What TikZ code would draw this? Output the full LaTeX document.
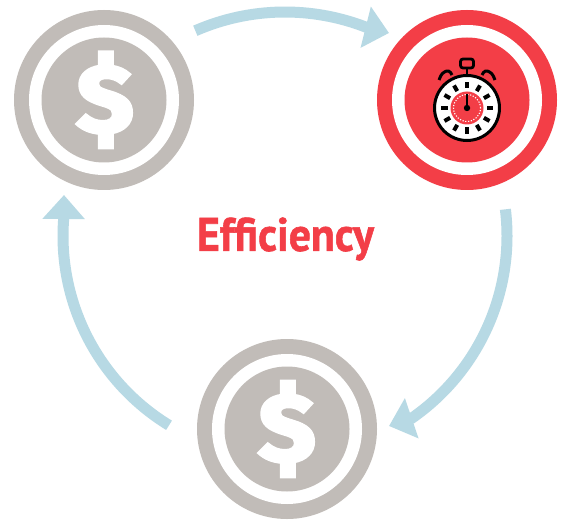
\documentclass[tikz,border=0pt]{standalone}
\usepackage{fontspec}
\setmainfont{Open Sans}
\newfontfamily\efont[FakeBold=1.2]{PT Sans Bold}
\newfontfamily\dfont[FakeBold=4]{Fira Sans Bold}
\usetikzlibrary{arrows.meta,calc}
\definecolor{coin}{HTML}{C1BCB8}
\definecolor{alert}{HTML}{F33E47}
\definecolor{flowc}{HTML}{B7D9E4}
\tikzset{
 x=1pt,y=1pt,
 disc/.style={circle,inner sep=0pt,outer sep=0pt,minimum size=#1},
 flow/.style={draw=flowc,fill=none,line width=11pt,-{Triangle[length=24pt,width=41pt,color=flowc]}},
 dollar/.style={text=white,font=\dfont\fontsize{96}{96}\selectfont,inner sep=0pt,xscale=1.08},
 ink/.style={draw=black,line width=3pt,line cap=round},
}
\begin{document}
\begin{tikzpicture}
\useasboundingbox (0,0) rectangle (561,520);
\fill[white] (0,0) rectangle (561,520);
\coordinate (hub) at (285,284);
% coins
\node[disc=180pt,fill=coin] (c1) at (104,420) {};
\node[disc=150pt,fill=white] (c1w) at (c1) {};
\node[disc=125pt,fill=coin] (c1i) at (c1) {};
\node[dollar] (d1) at (105,420) {\$};
\node[disc=180pt,fill=coin] (c3) at (287,91) {};
\node[disc=150pt,fill=white] (c3w) at (c3) {};
\node[disc=125pt,fill=coin] (c3i) at (c3) {};
\node[dollar] (d3) at (287,91) {\$};
\node[disc=180pt,fill=alert] (c2) at (467,420) {};
\node[disc=150pt,fill=white] (c2w) at (c2) {};
\node[disc=125pt,fill=alert] (c2i) at (c2) {};
% stopwatch
\coordinate (w) at (467,412);
\fill[white] (w) circle (32);
\fill[alert] (w) circle (16.5);
\draw[ink] (w) circle (32.5);
\draw[white,line width=1.1pt,dash pattern=on 1.2pt off 1.6pt] (w) circle (13.5);
\foreach \a in {0,30,...,330}{
  \fill[black,rotate around={\a:(w)}] ($(w)+(-2,19.5)$) rectangle ($(w)+(2,26)$);
}
\draw[black,line width=1.6pt] (w) -- ++(0,14);
\fill[black] (w) circle (3.2);
\draw[black,line width=2.8pt,rounded corners=2.5pt] (460.5,452) rectangle (473.5,461);
\draw[black,line width=2.4pt] (467,452) -- (467,443);
\draw[ink,line cap=butt,rounded corners=3pt] (439,440) -- (442,447) -- (449,450) -- (452,445);
\draw[ink,line cap=butt,rounded corners=3pt] (495,440) -- (492,447) -- (485,450) -- (482,445);
% label
\node[inner sep=0pt,text=alert,font=\efont\fontsize{47}{47}\selectfont,xscale=.93] (eff) at (285.5,281) {Efficiency};
% connectors
\coordinate (s1) at ($(hub)+(113.6:224)$);
\coordinate (t1) at (389,487);
\coordinate (s2) at ($(hub)+(6.9:222)$);
\coordinate (t2) at (389,94);
\coordinate (s3) at ($(hub)+(238.5:222)$);
\coordinate (t3) at (64,325);
\draw[flow] (s1) arc[start angle=113.6,end angle=68.6,radius=224] -- (t1);
\draw[flow] (s2) arc[start angle=6.9,end angle=-55.2,radius=222] -- (t2);
\draw[flow] (s3) arc[start angle=238.5,end angle=175.4,radius=222] -- (t3);
\end{tikzpicture}
\end{document}
